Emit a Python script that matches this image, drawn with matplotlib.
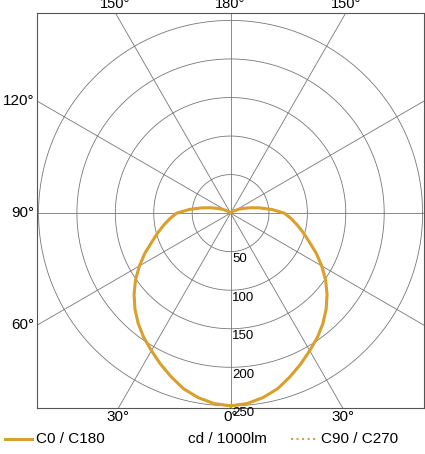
import numpy as np
import matplotlib
matplotlib.use("Agg")
import matplotlib.pyplot as plt

plt.rcParams['font.family'] = ['Liberation Sans', 'DejaVu Sans']

gamma = [0, 5, 10, 15, 20, 25, 30, 35, 40, 45, 50, 55, 60, 65, 70, 75, 80, 85, 90,
         95, 100, 105, 110, 115, 120, 125, 130, 135, 140, 150, 160, 170, 180]
c0_c180 = [250, 248, 243, 236, 226, 216, 206, 197, 187, 176, 164, 151, 137, 123, 109, 98, 88, 79, 70,
           54, 39, 27, 18, 12, 7, 4, 2, 1, 0, 0, 0, 0, 0]
c90_c270 = c0_c180[:]
rings = [50, 100, 150, 200, 250]
color = '#D9A02E'

fig = plt.figure(figsize=(4.25, 4.54), dpi=100)
ax = fig.add_axes([0.087, 0.101, 0.911, 0.871])
ax.set_xlim(-252, 252)
ax.set_ylim(-253, 260)
for s in ax.spines.values():
    s.set_color('#555555'); s.set_linewidth(0.8)
ax.set_xticks([]); ax.set_yticks([])

t = np.linspace(0, 2*np.pi, 400)
for r in rings:
    ax.plot(r*np.cos(t), r*np.sin(t), color='#777777', lw=0.6, zorder=1)
for a in range(0, 360, 30):
    rad = np.radians(a)
    ax.plot([0, 400*np.sin(rad)], [0, -400*np.cos(rad)], color='#777777', lw=0.6, zorder=1)
for r in rings:
    ax.text(2, -r - 2, str(r), ha='left', va='top', fontsize=9.5, zorder=3)

g = np.radians(np.array(gamma))
def curve(vals, **kw):
    v = np.array(vals)
    x = np.concatenate([v*np.sin(g), -(v*np.sin(g))[::-1]])
    y = np.concatenate([-v*np.cos(g), -(v*np.cos(g))[::-1]])
    ax.plot(x, y, color=color, zorder=2, solid_joinstyle='round', **kw)
curve(c0_c180, lw=2.2)
curve(c90_c270, lw=1.5, ls=':')

fs = 11
for lab, x in [('150°', -150), ('180°', 0), ('150°', 150)]:
    ax.text(x, 262, lab, ha='center', va='bottom', fontsize=10.5, clip_on=False)
for lab, x in [('30°', -146), ('0°', 0), ('30°', 146)]:
    ax.text(x, -256, lab, ha='center', va='top', fontsize=fs, clip_on=False)
for lab, y in [('120°', 145), ('90°', 0), ('60°', -145)]:
    ax.text(-256, y, lab, ha='right', va='center', fontsize=fs, clip_on=False)

fig.lines.append(plt.Line2D([0.012, 0.075], [0.033, 0.033], color=color, lw=2.2, transform=fig.transFigure))
fig.text(0.085, 0.033, 'C0 / C180', ha='left', va='center', fontsize=fs)
fig.text(0.535, 0.033, 'cd / 1000lm', ha='center', va='center', fontsize=fs)
fig.lines.append(plt.Line2D([0.685, 0.745], [0.033, 0.033], color=color, lw=1.5, ls=':', transform=fig.transFigure))
fig.text(0.755, 0.033, 'C90 / C270', ha='left', va='center', fontsize=fs)

fig.savefig('out.png', dpi=100)
